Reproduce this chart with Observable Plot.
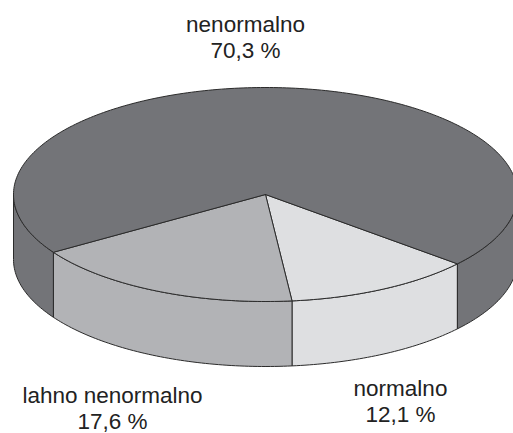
<!DOCTYPE html>
<html>
<head>
<meta charset="utf-8">
<script src="https://cdn.jsdelivr.net/npm/d3@7"></script>
<script src="https://cdn.jsdelivr.net/npm/@observablehq/plot@0.6"></script>
<style>
  html, body { margin: 0; padding: 0; background: #fff; }
  #chart svg { display: block; }
</style>
</head>
<body>
<div id="chart"></div>
<script>
// Shares of the three groups, in drawing order (clockwise)
const categories = ["normalno", "lahno nenormalno", "nenormalno"];
const percents = [12.1, 17.6, 70.3];
const sliceColors = ["#dedfe1", "#b2b3b6", "#737478"];

// Pie layout: ellipse centre and radii, wall depth, first slice start (deg, clockwise from 3 o'clock)
const cx = 265, cy = 194, rx = 252, ry = 107, depth = 65, startAngle = 40.4;
// First-line baseline of each label
const labelAnchors = [[400, 393], [112, 400], [245, 29]];
const fontSize = 22.5;

const fmt = v => d3.format(".1f")(v).replace(".", ",") + " %";
const rad = d => d * Math.PI / 180;
const pt = (t, dz = 0) => [cx + rx * Math.cos(rad(t)), cy + ry * Math.sin(rad(t)) + dz];

function arc(a, b, dz = 0) {
  const n = Math.max(2, Math.ceil(Math.abs(b - a)));
  return d3.range(n + 1).map(i => pt(a + (b - a) * i / n, dz));
}

// Slice angle spans
const total = d3.sum(percents);
let acc = startAngle;
const slices = categories.map((c, i) => {
  const a = acc, b = acc + percents[i] / total * 360;
  acc = b;
  return {category: c, value: percents[i], color: sliceColors[i], a, b};
});

// Front walls: only the part of each arc facing the viewer (0..180 deg)
const sides = [];
slices.forEach((s, i) => {
  [[0, 180], [360, 540]].forEach(([w0, w1], k) => {
    const lo = Math.max(s.a, w0), hi = Math.min(s.b, w1);
    if (hi > lo) {
      const ring = [...arc(lo, hi), ...arc(hi, lo, depth)];
      ring.push(ring[0]);
      ring.forEach(([x, y]) => sides.push({id: `side-${i}-${k}`, x, y, color: s.color}));
    }
  });
});

// Top faces
const tops = [];
slices.forEach((s, i) => {
  const ring = [[cx, cy], ...arc(s.a, s.b), [cx, cy]];
  ring.forEach(([x, y]) => tops.push({id: `top-${i}`, x, y, color: s.color}));
});

const labels = slices.map((s, i) => ({
  x: labelAnchors[i][0],
  y: labelAnchors[i][1] - 0.71 * fontSize,
  text: `${s.category}\n${fmt(s.value)}`
}));

const chart = Plot.plot({
  width: 513,
  height: 433,
  margin: 0,
  x: {type: "identity", axis: null},
  y: {type: "identity", axis: null},
  color: {type: "identity"},
  style: {fontFamily: "'Liberation Sans', Arial, sans-serif", background: "#fff"},
  marks: [
    Plot.line(sides, {x: "x", y: "y", z: "id", fill: "color", stroke: "#2b2b2b", strokeWidth: 1, curve: "linear"}),
    Plot.line(tops, {x: "x", y: "y", z: "id", fill: "color", stroke: "#2b2b2b", strokeWidth: 1, curve: "linear"}),
    Plot.text(labels, {
      x: "x", y: "y", text: "text",
      lineAnchor: "top", lineHeight: 1.15,
      textAnchor: "middle", fontSize: fontSize, fill: "#222"
    })
  ]
});

document.getElementById("chart").appendChild(chart);
</script>
</body>
</html>
